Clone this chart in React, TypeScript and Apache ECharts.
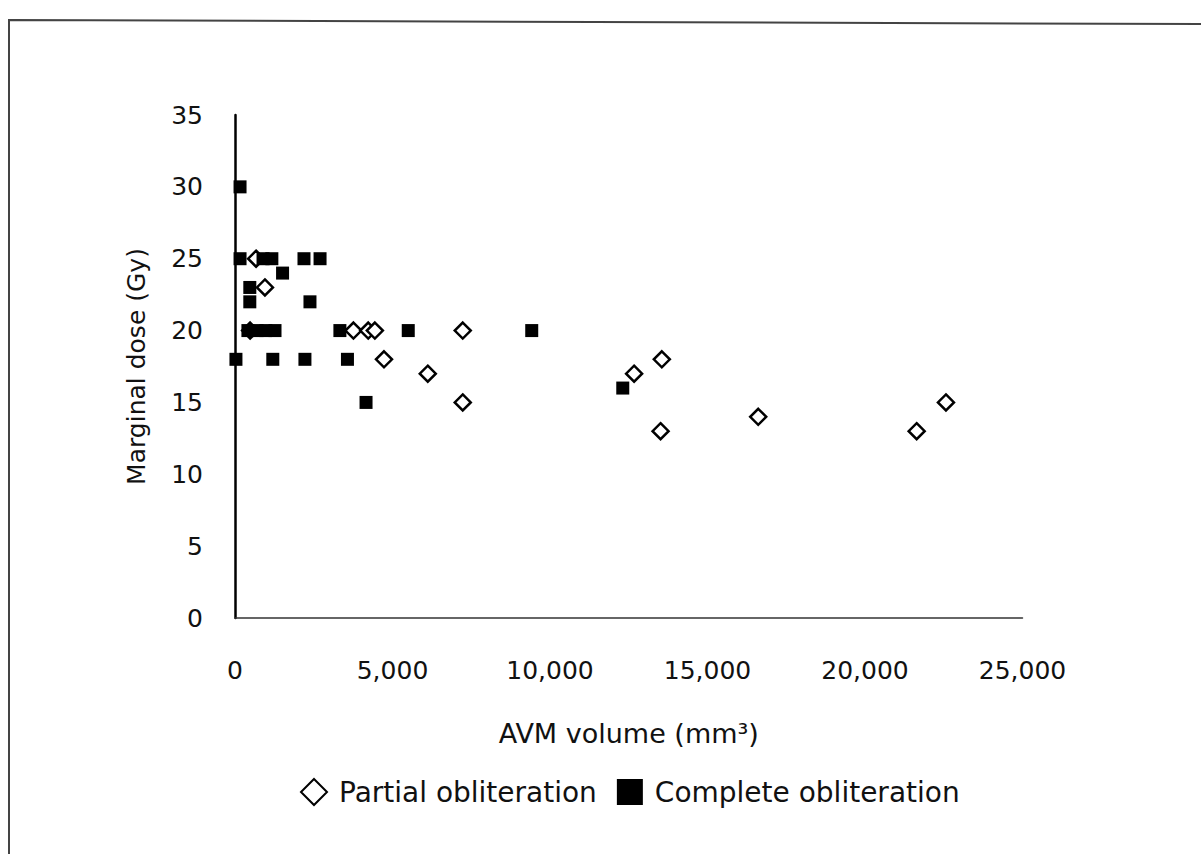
import React, { useEffect, useRef } from "react";
import * as echarts from "echarts";

// AVM volume (mm³) and marginal dose (Gy)
const partialVolume = [670, 950, 480, 3760, 4230, 4440, 4730, 6120, 7230, 7230, 12670, 13550, 13510, 16610, 21640, 22570];
const partialDose = [25, 23, 20, 20, 20, 20, 18, 17, 20, 15, 17, 18, 13, 14, 13, 15];

const completeVolume = [160, 160, 890, 1170, 2190, 2700, 1510, 470, 470, 2380, 410, 700, 980, 1270, 3330, 5500, 9420, 30, 1200, 2220, 3570, 4160, 12310];
const completeDose = [30, 25, 25, 25, 25, 25, 24, 23, 22, 22, 20, 20, 20, 20, 20, 20, 20, 18, 18, 18, 18, 15, 16];

const xTicks = [0, 5000, 10000, 15000, 20000, 25000];
const yTicks = [0, 5, 10, 15, 20, 25, 30, 35];

const seriesNames = ["Partial obliteration", "Complete obliteration"];
const xTitle = "AVM volume (mm³)";
const yTitle = "Marginal dose (Gy)";

const FONT = "DejaVu Sans";

export default function App() {
  const ref = useRef<HTMLDivElement>(null);

  useEffect(() => {
    if (!ref.current) return;
    const chart = echarts.init(ref.current, undefined, { renderer: "svg" });
    const partial = partialVolume.map((v, i) => [v, partialDose[i]]);
    const complete = completeVolume.map((v, i) => [v, completeDose[i]]);
    chart.setOption({
      animation: false,
      backgroundColor: "#ffffff",
      textStyle: { fontFamily: FONT, color: "#111" },
      graphic: [
        {
          type: "polyline",
          shape: { points: [[9, 854], [9, 20], [1201, 24]] },
          style: { stroke: "#444", lineWidth: 2, fill: "none" },
          silent: true,
        },
      ],
      grid: { left: 235, right: 178.5, top: 115, bottom: 236, containLabel: false },
      xAxis: {
        type: "value",
        min: xTicks[0],
        max: xTicks[xTicks.length - 1],
        interval: xTicks[1] - xTicks[0],
        name: xTitle,
        nameLocation: "middle",
        nameGap: 102,
        nameTextStyle: { fontFamily: FONT, fontSize: 27, color: "#111" },
        axisLine: { show: true, lineStyle: { color: "#333", width: 1.5 } },
        axisTick: { show: false },
        splitLine: { show: false },
        axisLabel: {
          fontFamily: FONT,
          fontSize: 25,
          color: "#111",
          margin: 40,
          formatter: (v: number) => v.toLocaleString("en-US"),
        },
      },
      yAxis: {
        type: "value",
        min: yTicks[0],
        max: yTicks[yTicks.length - 1],
        interval: yTicks[1] - yTicks[0],
        name: yTitle,
        nameLocation: "middle",
        nameGap: 86,
        nameTextStyle: { fontFamily: FONT, fontSize: 25, color: "#111" },
        axisLine: { show: true, lineStyle: { color: "#000", width: 2.5 } },
        axisTick: { show: false },
        splitLine: { show: false },
        axisLabel: { fontFamily: FONT, fontSize: 25, color: "#111", margin: 32 },
      },
      legend: {
        left: 300,
        top: 778,
        padding: 0,
        itemGap: 20,
        itemWidth: 26,
        itemHeight: 26,
        textStyle: { fontFamily: FONT, fontSize: 28, color: "#111", padding: [0, 0, 0, 7] },
        data: seriesNames,
      },
      series: [
        {
          name: seriesNames[0],
          type: "scatter",
          data: partial,
          symbol: "diamond",
          symbolSize: 16,
          itemStyle: { color: "#ffffff", borderColor: "#000", borderWidth: 2.5, opacity: 1 },
          z: 2,
        },
        {
          name: seriesNames[1],
          type: "scatter",
          data: complete,
          symbol: "rect",
          symbolSize: 13,
          itemStyle: { color: "#000", opacity: 1 },
          z: 3,
        },
      ],
    });
    return () => chart.dispose();
  }, []);

  return (
    <div
      ref={ref}
      style={{ position: "fixed", left: 0, top: 0, width: 1201, height: 854, background: "#fff" }}
    />
  );
}
